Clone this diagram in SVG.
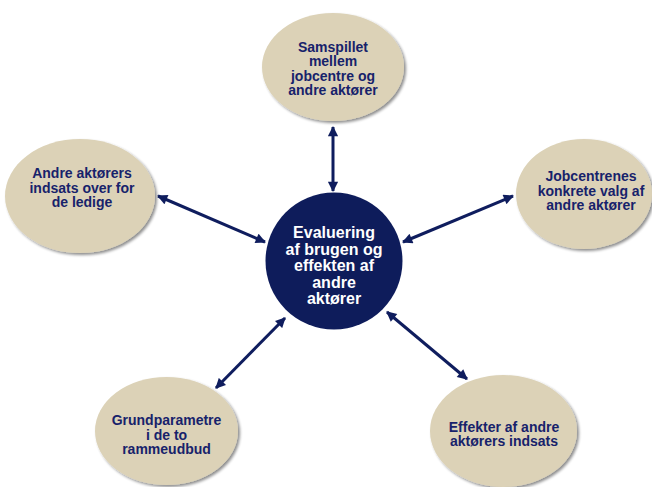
<svg xmlns="http://www.w3.org/2000/svg" width="652" height="487" viewBox="0 0 652 487">
  <style>
    .bubble { fill: #dcd2b7; filter: url(#shade); }
    .hub { fill: #0e1c5b; }
    .label { font-family: "Liberation Sans", Arial, sans-serif; font-weight: bold; font-size: 14px; fill: #17226b; text-anchor: middle; }
    .hub-label { font-family: "Liberation Sans", Arial, sans-serif; font-weight: bold; font-size: 16px; fill: #ffffff; text-anchor: middle; }
    .link { stroke: #0f1d5e; stroke-width: 3; fill: none; marker-start: url(#tip); marker-end: url(#tip); }
  </style>
  <defs>
    <filter id="shade" x="-10%" y="-10%" width="125%" height="125%">
      <feGaussianBlur in="SourceAlpha" stdDeviation="1.5"/>
      <feOffset dx="2" dy="2" result="off"/>
      <feComponentTransfer><feFuncA type="linear" slope="0.45"/></feComponentTransfer>
      <feMerge><feMergeNode/><feMergeNode in="SourceGraphic"/></feMerge>
    </filter>
    <marker id="tip" viewBox="0 0 10 10" refX="9" refY="5" markerWidth="3.8" markerHeight="3.4" orient="auto-start-reverse" markerUnits="strokeWidth">
      <path d="M0,0 L10,5 L0,10 Z" fill="#0f1d5e"/>
    </marker>
  </defs>

  <g id="connectors">
    <line class="link" x1="333" y1="127" x2="333" y2="191"/>
    <line class="link" x1="158" y1="196" x2="265" y2="242"/>
    <line class="link" x1="513" y1="196" x2="403" y2="242"/>
    <line class="link" x1="285" y1="318" x2="216" y2="388"/>
    <line class="link" x1="387" y1="312" x2="467" y2="379"/>
  </g>

  <g id="samspillet">
    <ellipse class="bubble" cx="333" cy="67" rx="71" ry="54"/>
    <text class="label" x="333" y="51.5">Samspillet</text>
    <text class="label" x="333" y="66">mellem</text>
    <text class="label" x="333" y="80.5">jobcentre og</text>
    <text class="label" x="333" y="95">andre aktører</text>
  </g>

  <g id="andre-aktoerers-indsats">
    <ellipse class="bubble" cx="80" cy="196" rx="75" ry="57"/>
    <text class="label" x="82" y="178">Andre aktørers</text>
    <text class="label" x="82" y="192.5">indsats over for</text>
    <text class="label" x="82" y="207">de ledige</text>
  </g>

  <g id="jobcentrenes-valg">
    <ellipse class="bubble" cx="584" cy="194" rx="68" ry="55"/>
    <text class="label" x="591" y="181">Jobcentrenes</text>
    <text class="label" x="591" y="195.5">konkrete valg af</text>
    <text class="label" x="591" y="210">andre aktører</text>
  </g>

  <g id="grundparametre">
    <ellipse class="bubble" cx="166.5" cy="431" rx="71.5" ry="54"/>
    <text class="label" x="166.5" y="425">Grundparametre</text>
    <text class="label" x="166.5" y="439.5">i de to</text>
    <text class="label" x="166.5" y="454">rammeudbud</text>
  </g>

  <g id="effekter">
    <ellipse class="bubble" cx="503.5" cy="431" rx="73.5" ry="56"/>
    <text class="label" x="504" y="431.5">Effekter af andre</text>
    <text class="label" x="504" y="446">aktørers indsats</text>
  </g>

  <g id="evaluering">
    <circle class="hub" cx="334" cy="261" r="68.5"/>
    <text class="hub-label" x="334" y="238">Evaluering</text>
    <text class="hub-label" x="334" y="254.5">af brugen og</text>
    <text class="hub-label" x="334" y="271">effekten af</text>
    <text class="hub-label" x="334" y="287.5">andre</text>
    <text class="hub-label" x="334" y="304">aktører</text>
  </g>
</svg>
